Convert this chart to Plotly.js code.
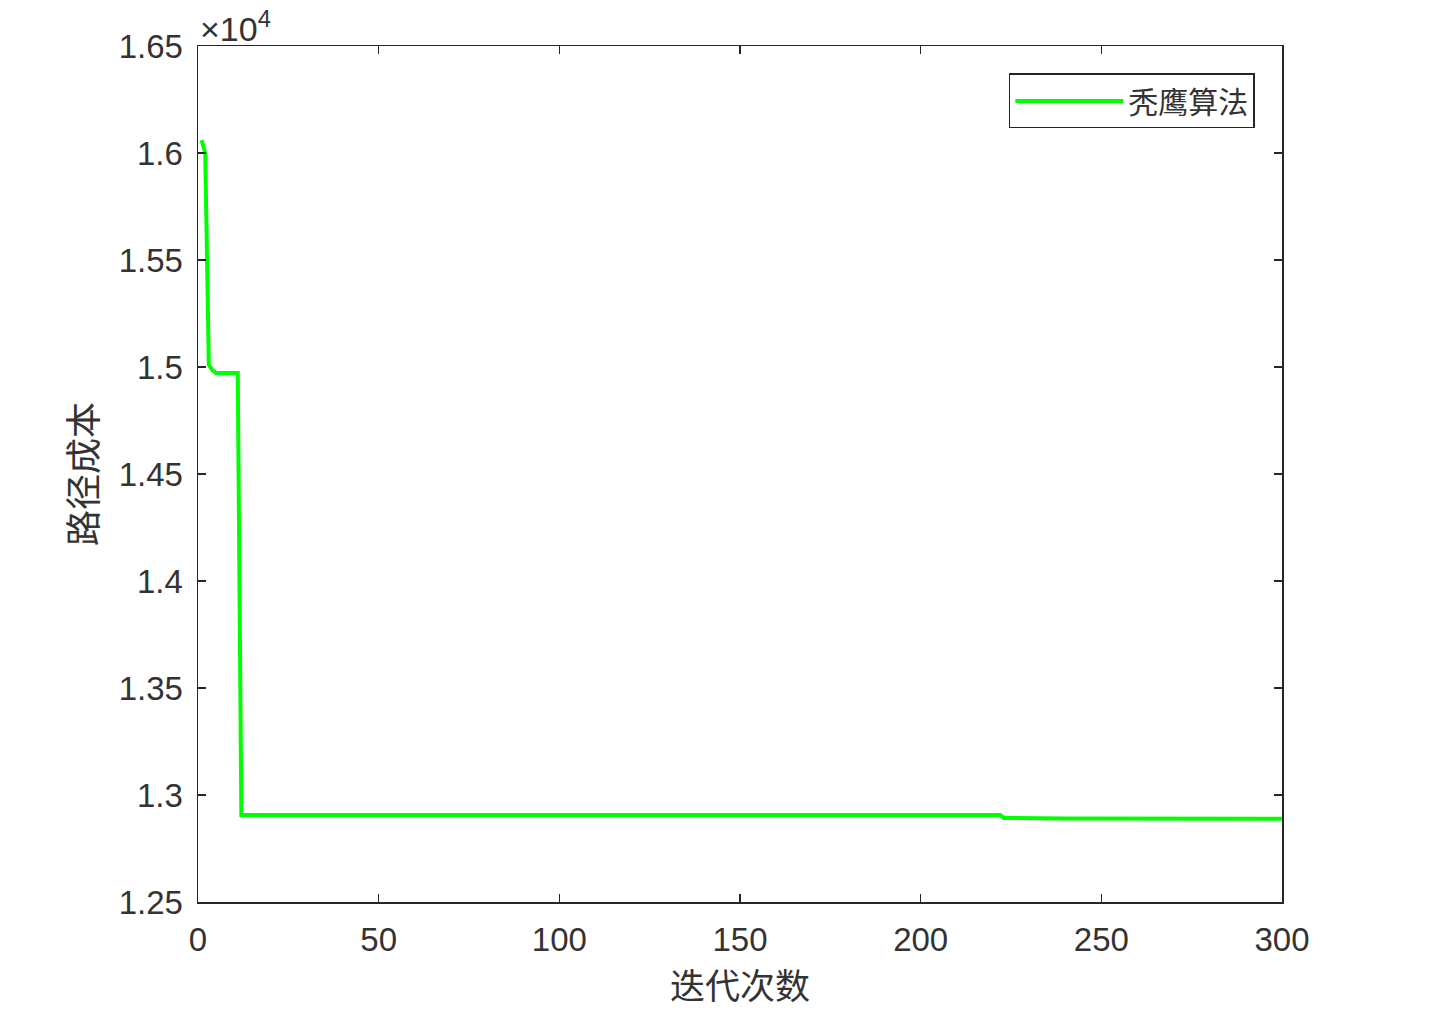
<!DOCTYPE html>
<html>
<head>
<meta charset="utf-8">
<script src="https://cdn.plot.ly/plotly-3.0.1.min.js"></script>
<style>html,body{margin:0;padding:0;background:#fff;}#chart{width:1446px;height:1028px;}</style>
</head>
<body>
<div id="chart"></div>
<script>
// Iteration numbers where the convergence curve changes, and the path cost there
const iterations = [1, 2, 3, 4, 5, 11, 12, 222, 223, 240, 300];
const pathCost = [16060, 16000, 15010, 14985, 14972, 14972, 12907, 12907, 12893, 12890, 12889];
const seriesName = "秃鹰算法";
const yTickVals = [12500, 13000, 13500, 14000, 14500, 15000, 15500, 16000, 16500];
const yTickText = ["1.25", "1.3", "1.35", "1.4", "1.45", "1.5", "1.55", "1.6", "1.65"];
const xTitle = "迭代次数";
const yTitle = "路径成本";

const axisColor = "#262626";
const tickFont = {family: "Liberation Sans, Arial, sans-serif", size: 33, color: "#333333"};
const cjkFont = "Noto Sans CJK SC, sans-serif";

Plotly.newPlot("chart", [{
  x: iterations,
  y: pathCost,
  type: "scatter",
  mode: "lines",
  name: seriesName,
  line: {color: "#00FF00", width: 4}
}], {
  width: 1446,
  height: 1028,
  margin: {l: 198, r: 164, t: 46, b: 126},
  paper_bgcolor: "#ffffff",
  plot_bgcolor: "#ffffff",
  showlegend: true,
  legend: {
    x: 0.748, y: 0.968, xanchor: "left", yanchor: "top",
    bordercolor: axisColor, borderwidth: 1.5, bgcolor: "#ffffff",
    font: {family: cjkFont, size: 30, color: "#333333"},
    itemwidth: 108,
    tracegroupgap: 0
  },
  xaxis: {
    range: [0, 300],
    tickvals: [0, 50, 100, 150, 200, 250, 300],
    showgrid: false, zeroline: false,
    showline: true, linecolor: axisColor, linewidth: 1.5, mirror: "ticks",
    ticks: "inside", ticklen: 8, tickwidth: 1.5, tickcolor: axisColor,
    tickfont: tickFont, ticklabelstandoff: 8,
    title: {text: xTitle, font: {family: cjkFont, size: 35, color: "#333333"}, standoff: 8}
  },
  yaxis: {
    range: [12500, 16500],
    tickvals: yTickVals, ticktext: yTickText,
    showgrid: false, zeroline: false,
    showline: true, linecolor: axisColor, linewidth: 1.5, mirror: "ticks",
    ticks: "inside", ticklen: 8, tickwidth: 1.5, tickcolor: axisColor,
    tickfont: tickFont, ticklabelstandoff: 7,
    title: {text: yTitle, font: {family: cjkFont, size: 36, color: "#333333"}, standoff: 10}
  },
  annotations: [{
    xref: "paper", yref: "paper", x: 0, y: 1, xanchor: "left", yanchor: "bottom",
    xshift: 0, yshift: -4, showarrow: false,
    text: "×10<sup>4</sup>",
    font: {family: "Liberation Sans, Arial, sans-serif", size: 34, color: "#333333"}
  }]
}, {displayModeBar: false, staticPlot: true});
</script>
</body>
</html>
